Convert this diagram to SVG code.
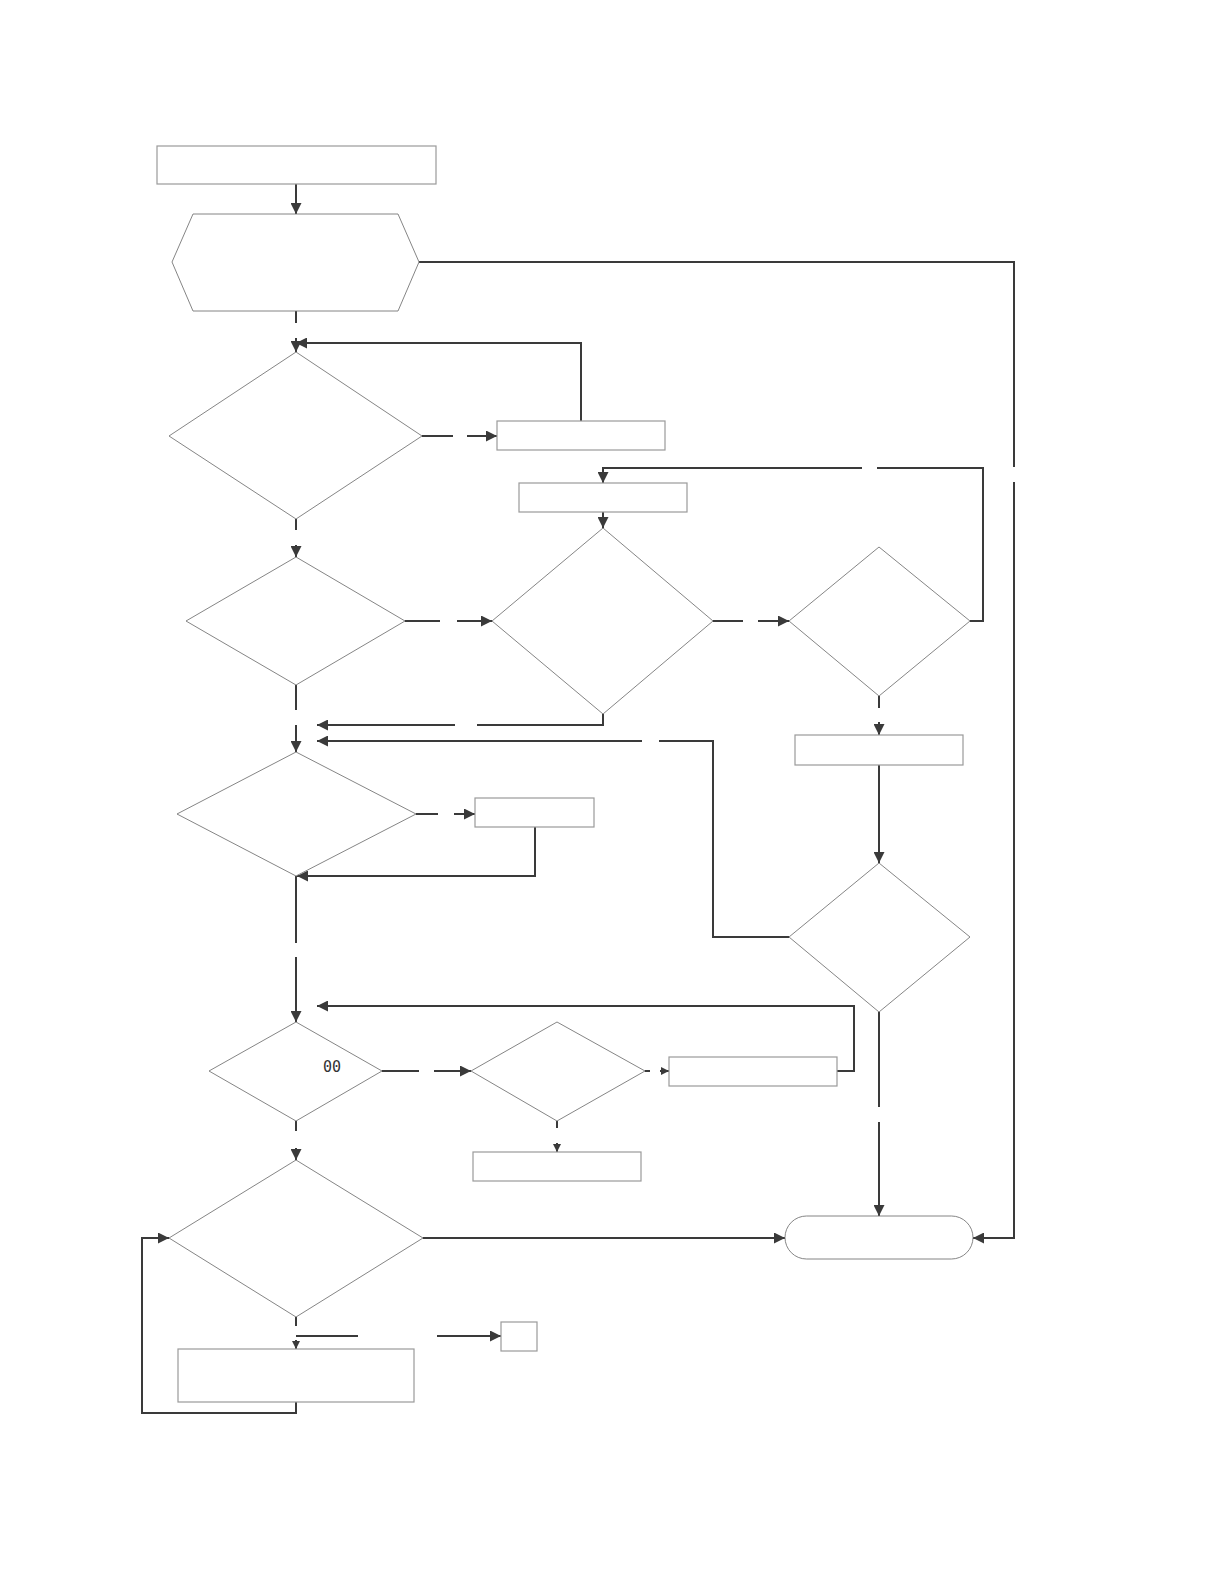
<svg xmlns="http://www.w3.org/2000/svg" width="1224" height="1584" viewBox="0 0 1224 1584">
<defs>
<marker id="arr" markerUnits="userSpaceOnUse" markerWidth="11" markerHeight="11" refX="11" refY="5.5" orient="auto"><path d="M0,0 L11,5.5 L0,11 z" fill="#3a3a3a"/></marker>
<marker id="arrs" markerUnits="userSpaceOnUse" markerWidth="8" markerHeight="8" refX="8" refY="4" orient="auto"><path d="M0,0 L8,4 L0,8 z" fill="#3a3a3a"/></marker>
<style>
.box{fill:#fff;stroke:#9a9a9a;stroke-width:1.2}
.dia{fill:#fff;stroke:#777;stroke-width:0.9}
.c{fill:none;stroke:#3a3a3a;stroke-width:2}
.a{marker-end:url(#arr)}
.s{marker-end:url(#arrs)}
.t{font-family:"DejaVu Sans Mono","Liberation Mono",monospace;font-size:15px;fill:#333}
</style>
</defs>
<rect width="1224" height="1584" fill="#fff"/>
<g id="connectors">
<path class="c a" d="M296,184 L296,214"/>
<path class="c" d="M419,262 L1014,262 L1014,467"/>
<path class="c a" d="M1014,482 L1014,1238 L973,1238"/>
<path class="c" d="M296,311 L296,323"/>
<path class="c a" d="M296,338 L296,352"/>
<path class="c" d="M422,436 L453,436"/>
<path class="c a" d="M467,436 L497,436"/>
<path class="c a" d="M581,421 L581,343 L296,343"/>
<path class="c" d="M296,519 L296,530"/>
<path class="c a" d="M296,545 L296,557"/>
<path class="c" d="M405,621 L440,621"/>
<path class="c a" d="M457,621 L492,621"/>
<path class="c a" d="M603,512 L603,528"/>
<path class="c" d="M713,621 L743,621"/>
<path class="c a" d="M758,621 L789,621"/>
<path class="c" d="M970,621 L983,621 L983,468 L877,468"/>
<path class="c a" d="M862,468 L603,468 L603,483"/>
<path class="c" d="M879,696 L879,708"/>
<path class="c a" d="M879,722 L879,735"/>
<path class="c a" d="M879,765 L879,863"/>
<path class="c" d="M603,714 L603,725 L477,725"/>
<path class="c a" d="M455,725 L317,725"/>
<path class="c" d="M789,937 L713,937 L713,741 L659,741"/>
<path class="c a" d="M642,741 L317,741"/>
<path class="c" d="M296,685 L296,710"/>
<path class="c a" d="M296,725 L296,752"/>
<path class="c" d="M416,814 L438,814"/>
<path class="c a" d="M454,814 L475,814"/>
<path class="c a" d="M535,827 L535,876 L297,876"/>
<path class="c" d="M296,876 L296,943"/>
<path class="c a" d="M296,957 L296,1022"/>
<path class="c a" d="M837,1071 L854,1071 L854,1006 L317,1006"/>
<path class="c" d="M382,1071 L419,1071"/>
<path class="c a" d="M434,1071 L471,1071"/>
<path class="c" d="M645,1071 L650,1071"/>
<path class="c s" d="M660,1071 L669,1071"/>
<path class="c" d="M557,1121 L557,1128"/>
<path class="c s" d="M557,1143 L557,1152"/>
<path class="c" d="M296,1121 L296,1131"/>
<path class="c a" d="M296,1148 L296,1160"/>
<path class="c a" d="M423,1238 L785,1238"/>
<path class="c" d="M879,1012 L879,1107"/>
<path class="c a" d="M879,1122 L879,1216"/>
<path class="c" d="M296,1317 L296,1326"/>
<path class="c" d="M296,1336 L358,1336"/>
<path class="c a" d="M437,1336 L501,1336"/>
<path class="c s" d="M296,1340 L296,1349"/>
<path class="c a" d="M296,1402 L296,1413 L142,1413 L142,1238 L169,1238"/>
</g>
<g id="n1"><rect class="box" x="157" y="146" width="279" height="38"/></g>
<g id="n2"><polygon class="dia" points="193,214 398,214 419,262 398,311 193,311 172,262"/></g>
<g id="n3"><polygon class="dia" points="296,352 422,436 296,519 169,436"/></g>
<g id="n4"><rect class="box" x="497" y="421" width="168" height="29"/></g>
<g id="n5"><rect class="box" x="519" y="483" width="168" height="29"/></g>
<g id="n6"><polygon class="dia" points="296,557 405,621 296,685 186,621"/></g>
<g id="n7"><polygon class="dia" points="603,528 713,621 603,714 492,621"/></g>
<g id="n8"><polygon class="dia" points="879,547 970,621 879,696 789,621"/></g>
<g id="n9"><rect class="box" x="795" y="735" width="168" height="30"/></g>
<g id="n10"><polygon class="dia" points="296,752 416,814 296,876 177,814"/></g>
<g id="n11"><rect class="box" x="475" y="798" width="119" height="29"/></g>
<g id="n12"><polygon class="dia" points="879,863 970,937 879,1012 789,937"/></g>
<g id="n13"><polygon class="dia" points="296,1022 382,1071 296,1121 209,1071"/><text class="t" x="332" y="1072" text-anchor="middle">00</text></g>
<g id="n14"><polygon class="dia" points="557,1022 645,1071 557,1121 471,1071"/></g>
<g id="n15"><rect class="box" x="669" y="1057" width="168" height="29"/></g>
<g id="n16"><rect class="box" x="473" y="1152" width="168" height="29"/></g>
<g id="n17"><polygon class="dia" points="296,1160 423,1238 296,1317 169,1238"/></g>
<g id="n18"><rect class="dia" x="785" y="1216" width="188" height="43" rx="21.5" ry="21.5"/></g>
<g id="n19"><rect class="box" x="501" y="1322" width="36" height="29"/></g>
<g id="n20"><rect class="box" x="178" y="1349" width="236" height="53"/></g>
</svg>
